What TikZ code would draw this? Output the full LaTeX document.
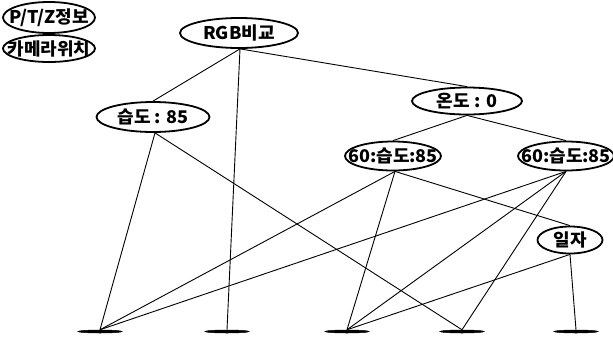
\documentclass[tikz,border=0pt]{standalone}
\usepackage{fontspec}
\newfontfamily\kr{Noto Sans CJK KR}[FakeStretch=1.03]
\usetikzlibrary{shapes.geometric}
\tikzset{
 kn/.style={ellipse, draw, line width=1.8pt, inner sep=0pt},
 lab/.style={font=\kr\bfseries\fontsize{17.5}{17.5}\selectfont, inner sep=0pt},
 leaf/.style={ellipse, draw, fill=black, line width=0.5pt, minimum width=44pt, minimum height=3pt, inner sep=0pt},
 edge/.style={line width=0.9pt}
}
\begin{document}
\begin{tikzpicture}[x=1pt,y=-1pt]
\useasboundingbox (0,0) rectangle (613,338);
\clip (0,0) rectangle (613,338);
\node[kn, minimum width=92pt, minimum height=31pt, label={[lab]center:P/T/Z정보}] (ptz) at (49,17.5) {};
\node[kn, minimum width=92pt, minimum height=27pt, label={[lab]center:카메라위치}] (cam) at (49,48.5) {};
\node[kn, minimum width=118pt, minimum height=30pt, label={[lab]center:RGB비교}] (rgb) at (239,33) {};
\node[kn, minimum width=113pt, minimum height=30pt, label={[lab]center:습도 : 85}] (hum) at (153,117) {};
\node[kn, minimum width=110pt, minimum height=27pt, label={[lab]center:온도 : 0}] (tmp) at (467,101) {};
\node[kn, minimum width=96pt, minimum height=29pt, label={[lab]center:60:습도:85}] (sl) at (393,156) {};
\node[kn, minimum width=96pt, minimum height=29pt, label={[lab]center:60:습도:85}] (sr) at (566,156) {};
\node[kn, minimum width=65pt, minimum height=27pt, label={[lab]center:일자}] (day) at (570,240) {};
\node[leaf] (l1) at (100,331.5) {};
\node[leaf] (l2) at (227,331.5) {};
\node[leaf] (l3) at (347,331.5) {};
\node[leaf] (l4) at (462,331.5) {};
\node[leaf] (l5) at (576,331.5) {};
\begin{scope}[edge]
\draw ([xshift=1pt]rgb.south) -- (hum.north);
\draw ([xshift=1pt]rgb.south) -- (l2.north);
\draw ([xshift=1pt]rgb.south) -- (tmp.north);
\draw ([xshift=2pt]hum.south) -- (l1.north);
\draw ([xshift=2pt]hum.south) -- (l4.north);
\draw (tmp.south) -- (sl.north);
\draw (tmp.south) -- (sr.north);
\draw ([xshift=2pt]sl.south) -- (l1.north);
\draw ([xshift=2pt]sl.south) -- (l3.north);
\draw ([xshift=2pt]sl.south) -- (day.north);
\draw (sr.south) -- (l1.north);
\draw (sr.south) -- (l3.north);
\draw (sr.south) -- (l4.north);
\draw (day.south) -- (l3.north);
\draw (day.south) -- (l5.north);
\end{scope}
\end{tikzpicture}
\end{document}
